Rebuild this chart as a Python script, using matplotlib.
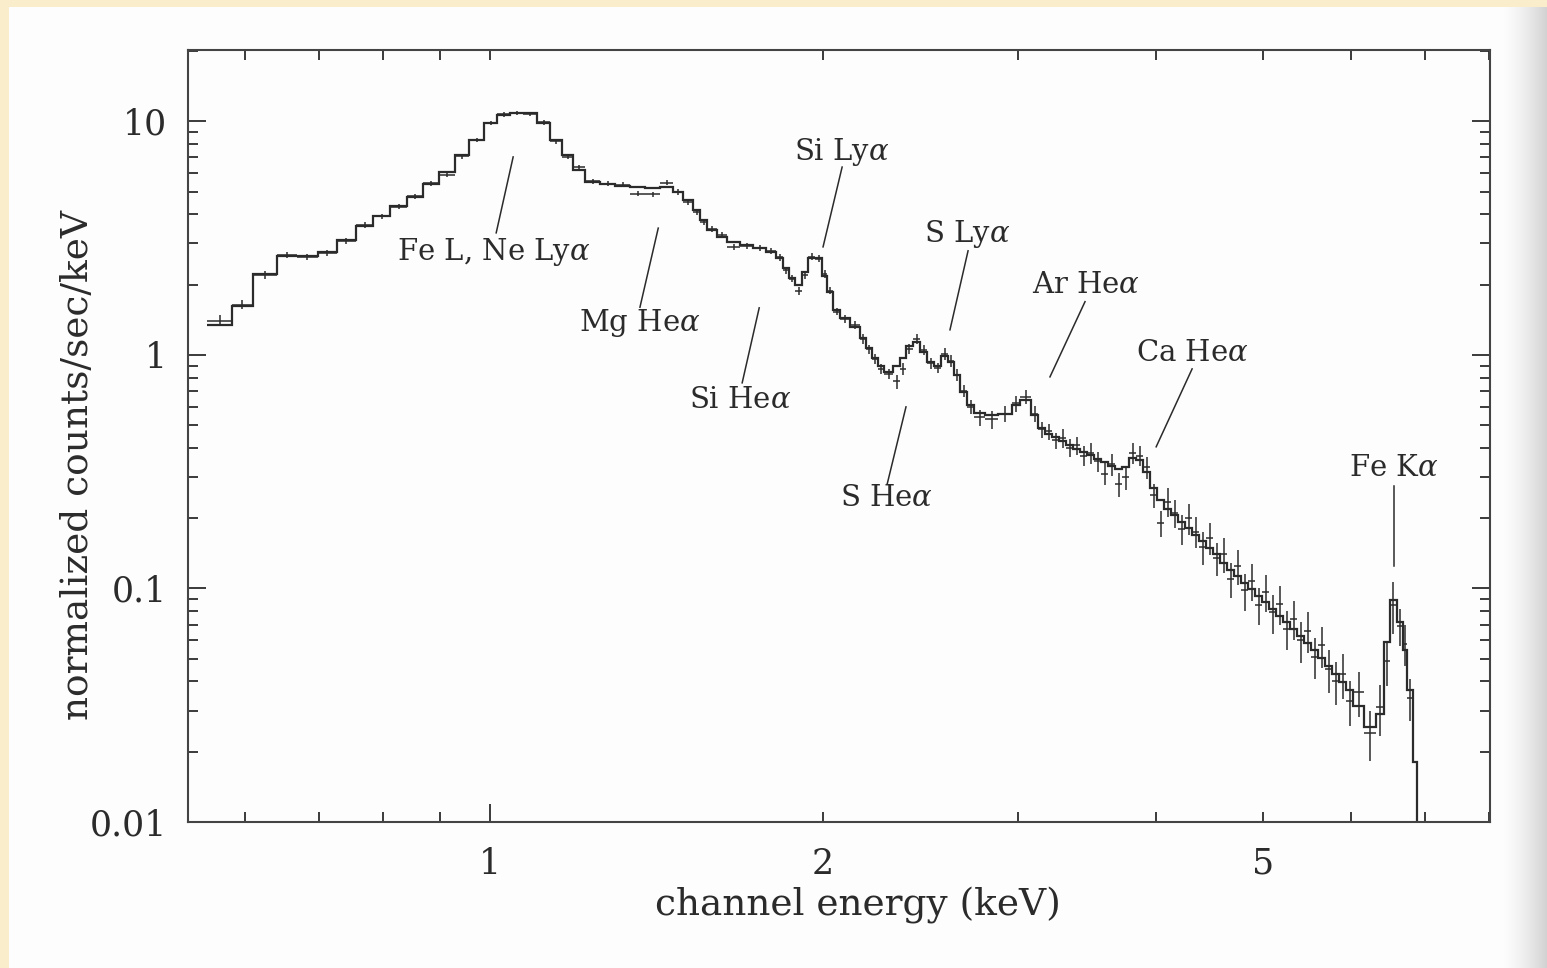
import numpy as np
import matplotlib
matplotlib.use('Agg')
import matplotlib.pyplot as plt
from matplotlib.ticker import FixedLocator, FixedFormatter, NullFormatter

plt.rcParams['font.family'] = ['DejaVu Serif']
plt.rcParams['mathtext.fontset'] = 'dejavuserif'

# channel bin edges (keV)
edges = [0.555, 0.584, 0.610, 0.642, 0.669, 0.698, 0.727, 0.756, 0.784, 0.812,
         0.841, 0.870, 0.899, 0.930, 0.957, 0.988, 1.015, 1.043, 1.071, 1.103,
         1.133, 1.162, 1.189, 1.219, 1.257, 1.297, 1.339, 1.381, 1.424, 1.464,
         1.495, 1.526, 1.548, 1.571, 1.604, 1.638, 1.683, 1.729, 1.777, 1.814,
         1.840, 1.864, 1.887, 1.915, 1.939, 1.967, 1.996, 2.017, 2.042, 2.073,
         2.116, 2.160, 2.188, 2.215, 2.243, 2.271, 2.314, 2.348, 2.377, 2.412,
         2.448, 2.484, 2.520, 2.557, 2.595, 2.627, 2.660, 2.700, 2.739, 2.803,
         2.879, 2.965, 3.015, 3.085, 3.130, 3.176,
         3.222, 3.269, 3.317, 3.366, 3.416, 3.466, 3.517, 3.569, 3.621, 3.674,
         3.728, 3.783, 3.838, 3.895, 3.952, 4.010, 4.069, 4.129, 4.189, 4.251,
         4.313, 4.377, 4.441, 4.506, 4.572, 4.640, 4.708, 4.777, 4.847, 4.918,
         4.991, 5.064, 5.138, 5.212, 5.290, 5.367, 5.446, 5.526, 5.607, 5.689,
         5.773, 5.857, 5.943, 6.031, 6.170, 6.326, 6.432, 6.512, 6.608, 6.691,
         6.747, 6.831, 6.889, 7.0]

# folded model (counts/sec/keV), one value per bin
model = [1.34, 1.62, 2.22, 2.65, 2.64, 2.76, 3.10, 3.56, 3.93, 4.34,
         4.74, 5.39, 6.07, 7.17, 8.32, 9.83, 10.6, 10.85, 10.85,
         9.83, 8.32, 7.17, 6.19, 5.50, 5.39, 5.29, 5.24, 5.18, 5.23,
         4.98, 4.61, 4.17, 3.78, 3.43, 3.20, 3.04, 2.96, 2.87, 2.76,
         2.60, 2.36, 2.14, 1.99, 2.27, 2.60, 2.60, 2.18, 1.86, 1.56,
         1.44, 1.32, 1.18, 1.07, 0.97, 0.90, 0.846, 0.90, 0.97, 1.09,
         1.14, 1.03, 0.933, 0.897, 0.99, 0.933, 0.821, 0.695, 0.611, 0.565,
         0.554, 0.559, 0.611, 0.642, 0.554, 0.487,
         0.459, 0.446, 0.429, 0.412, 0.396, 0.385, 0.373, 0.359, 0.348, 0.335,
         0.325, 0.332, 0.362, 0.355, 0.316, 0.270, 0.240, 0.219, 0.207, 0.193,
         0.182, 0.170, 0.160, 0.149, 0.141, 0.129, 0.120, 0.113, 0.106, 0.0997,
         0.0930, 0.0877, 0.0819, 0.0764, 0.0720, 0.0672, 0.0628, 0.0586, 0.0547, 0.0505,
         0.0467, 0.0432, 0.0399, 0.0369, 0.0315, 0.0254, 0.0291, 0.0591, 0.0894, 0.0720,
         0.0547, 0.0369, 0.0180, 0.003]

# measured rates
counts = [1.40, 1.64, 2.20, 2.69, 2.63, 2.72, 3.08, 3.60, 3.93, 4.30,
          4.78, 5.42, 5.90, 7.10, 8.30, 9.80, 10.7, 10.9, 10.8,
          9.90, 8.20, 7.05, 6.37, 5.55, 5.40, 5.35, 4.90, 4.88, 5.45,
          5.00, 4.50, 4.10, 3.70, 3.45, 3.25, 2.90, 2.93, 2.86, 2.78,
          2.62, 2.30, 2.12, 1.88, 2.20, 2.63, 2.58, 2.22, 1.88, 1.53,
          1.42, 1.34, 1.17, 1.06, 0.96, 0.87, 0.83, 0.77, 0.87, 1.06,
          1.17, 1.05, 0.92, 0.88, 1.01, 0.94, 0.82, 0.70, 0.60, 0.54,
          0.53, 0.56, 0.62, 0.66, 0.56, 0.48,
          0.47, 0.43, 0.44, 0.40, 0.41, 0.37, 0.38, 0.35, 0.31, 0.34,
          0.28, 0.30, 0.38, 0.37, 0.33, 0.25, 0.19, 0.235, 0.21, 0.18,
          0.20, 0.175, 0.15, 0.165, 0.135, 0.14, 0.11, 0.125, 0.098, 0.108,
          0.085, 0.097, 0.079, 0.086, 0.067, 0.074, 0.060, 0.066, 0.051, 0.057,
          0.045, 0.040, 0.043, 0.033, 0.036, 0.024, 0.031, 0.049, 0.085, 0.069,
          0.058, 0.034, np.nan, np.nan]

# fractional 1-sigma errors on the measured rates
rel_err = [0.055, 0.045, 0.035, 0.03, 0.03, 0.03, 0.03, 0.03, 0.025, 0.025,
           0.025, 0.025, 0.025, 0.025, 0.02, 0.02, 0.02, 0.02, 0.02,
           0.025, 0.025, 0.025, 0.025, 0.025, 0.025, 0.025, 0.025, 0.025, 0.025,
           0.03, 0.03, 0.03, 0.03, 0.03, 0.03, 0.03, 0.03, 0.03, 0.03,
           0.035, 0.035, 0.035, 0.04, 0.035, 0.035, 0.035, 0.035, 0.035, 0.035,
           0.04, 0.04, 0.045, 0.045, 0.05, 0.05, 0.05, 0.07, 0.06, 0.05,
           0.05, 0.05, 0.05, 0.05, 0.06, 0.06, 0.06, 0.06, 0.07, 0.08,
           0.09, 0.08, 0.08, 0.07, 0.08, 0.08,
           0.08, 0.08, 0.09, 0.09, 0.09, 0.10, 0.10, 0.10, 0.11, 0.11,
           0.12, 0.12, 0.10, 0.10, 0.11, 0.12, 0.13, 0.14, 0.14, 0.15,
           0.15, 0.15, 0.16, 0.16, 0.16, 0.17, 0.17, 0.17, 0.18, 0.18,
           0.18, 0.18, 0.19, 0.19, 0.19, 0.19, 0.20, 0.20, 0.20, 0.20,
           0.21, 0.21, 0.22, 0.22, 0.22, 0.24, 0.25, 0.22, 0.25, 0.18,
           0.20, 0.20, 0.0, 0.0]

# line identifications: text, text anchor (keV, rate), leader start, leader end
line_ids = [
    (r'Fe L, Ne Ly$\alpha$', (1.008, 2.76), (1.049, 7.04), (1.0126, 3.33)),
    (r'Mg He$\alpha$', (1.364, 1.37), (1.419, 3.49), (1.366, 1.60)),
    (r'Si Ly$\alpha$', (2.081, 7.39), (2.081, 6.37), (2.000, 2.90)),
    (r'Si He$\alpha$', (1.683, 0.642), (1.751, 1.59), (1.690, 0.759)),
    (r'S Ly$\alpha$', (2.700, 3.29), (2.705, 2.79), (2.605, 1.28)),
    (r'S He$\alpha$', (2.281, 0.244), (2.377, 0.599), (2.286, 0.2805)),
    (r'Ar He$\alpha$', (3.459, 1.99), (3.451, 1.69), (3.208, 0.805)),
    (r'Ca He$\alpha$', (4.313, 1.02), (4.313, 0.871), (4.002, 0.404)),
    (r'Fe K$\alpha$', (6.567, 0.3285), (6.567, 0.275), (6.567, 0.125)),
]

ink = '#2b2b2b'
W, H = 1547, 968
fig = plt.figure(figsize=(W / 100, H / 100), dpi=100)

# scanned page: cream margin top/left, grey shading on the right edge
bg = np.full((H, W, 3), 0.995)
bg[:7, :, :] = [0.98, 0.93, 0.80]
bg[:, :9, :] = [0.98, 0.93, 0.80]
shade = np.linspace(0.0, 1.0, 47) ** 1.5
for c in range(3):
    bg[7:, 1500:, c] = 0.995 - 0.17 * shade[None, :]
ax_bg = fig.add_axes([0, 0, 1, 1], zorder=-1)
ax_bg.imshow(bg, aspect='auto', interpolation='bilinear')
ax_bg.axis('off')

ax = fig.add_axes([188 / W, 1 - 822 / H, (1490 - 188) / W, (822 - 50) / H])
ax.set_facecolor('none')
ax.set_xscale('log')
ax.set_yscale('log')

e = np.array(edges)
lo, hi = e[:-1], e[1:]
mid = np.sqrt(lo * hi)
cnt = np.array(counts)
yerr = cnt * np.array(rel_err)
ok = ~np.isnan(cnt)

ax.stairs(model, edges, baseline=None, color=ink, lw=1.6)
ax.errorbar(mid[ok], cnt[ok], xerr=[(mid - lo)[ok], (hi - mid)[ok]], yerr=yerr[ok],
            fmt='none', ecolor=ink, elinewidth=1.1, capsize=0)

ax.set_xlim(0.533, 8.02)
ax.set_ylim(0.01, 20.2)

for txt, pos, p0, p1 in line_ids:
    ax.plot([p0[0], p1[0]], [p0[1], p1[1]], color=ink, lw=1.1)
    ax.text(pos[0], pos[1], txt, ha='center', va='center', fontsize=21, color=ink)

# ticks
ax.xaxis.set_major_locator(FixedLocator([1, 2, 5]))
ax.xaxis.set_major_formatter(FixedFormatter(['1', '2', '5']))
ax.xaxis.set_minor_locator(FixedLocator([0.6, 0.7, 0.8, 0.9, 3, 4, 6, 7, 8]))
ax.xaxis.set_minor_formatter(NullFormatter())
ax.yaxis.set_major_locator(FixedLocator([0.01, 0.1, 1, 10]))
ax.yaxis.set_major_formatter(FixedFormatter(['0.01', '0.1', '1', '10']))
ax.yaxis.set_minor_locator(FixedLocator([m * d for d in (0.01, 0.1, 1, 10) for m in range(2, 10)]))
ax.yaxis.set_minor_formatter(NullFormatter())

ax.tick_params(which='both', direction='in', top=True, right=True, color=ink, width=1.3)
ax.tick_params(axis='x', which='major', length=7, pad=18, labelsize=25, labelcolor=ink)
ax.tick_params(axis='x', which='minor', length=7)
ax.tick_params(axis='y', which='major', length=13, pad=15, labelsize=25, labelcolor=ink)
ax.tick_params(axis='y', which='minor', length=7)
# decade tick at 1 keV is drawn longer on the bottom axis
t1 = ax.xaxis.get_major_ticks()[0]
t1.tick1line.set_markersize(13)

for s in ax.spines.values():
    s.set_color('#444444')
    s.set_linewidth(1.5)

ax.set_xlabel('channel energy (keV)', fontsize=27, color=ink)
ax.xaxis.set_label_coords((858 - 188) / 1302, -(905 - 822) / 772)
ax.xaxis.label.set_va('center')
ax.set_ylabel('normalized counts/sec/keV', fontsize=27, color=ink)
ax.yaxis.set_label_coords((78 - 188) / 1302, (822 - 465) / 772)
ax.yaxis.label.set_va('center')

fig.savefig('out.png', dpi=100)
